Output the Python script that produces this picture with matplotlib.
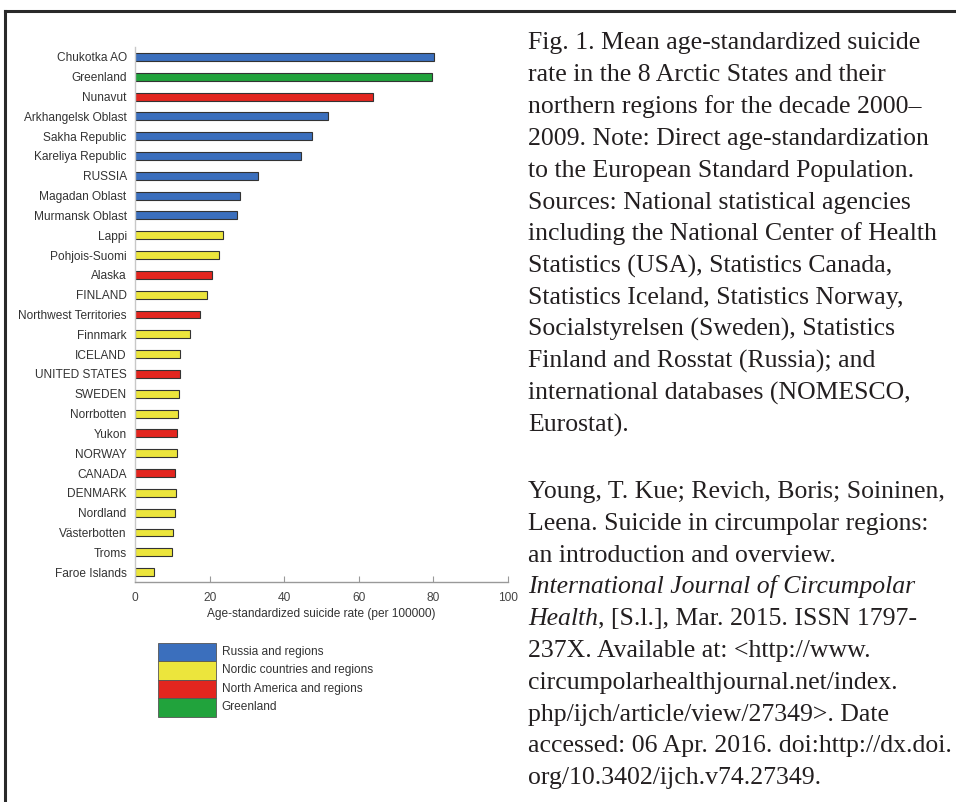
import matplotlib
matplotlib.use('Agg')
import matplotlib.pyplot as plt
from matplotlib.patches import Rectangle
from matplotlib.lines import Line2D

# ---------------- data ----------------
regions = ["Chukotka AO", "Greenland", "Nunavut", "Arkhangelsk Oblast", "Sakha Republic",
           "Kareliya Republic", "RUSSIA", "Magadan Oblast", "Murmansk Oblast", "Lappi",
           "Pohjois-Suomi", "Alaska", "FINLAND", "Northwest Territories", "Finnmark",
           "ICELAND", "UNITED STATES", "SWEDEN", "Norrbotten", "Yukon", "NORWAY",
           "CANADA", "DENMARK", "Nordland", "Västerbotten", "Troms", "Faroe Islands"]
rates = [80.2, 79.7, 63.8, 51.8, 47.5, 44.5, 32.9, 28.1, 27.3, 23.6,
         22.6, 20.6, 19.3, 17.3, 14.7, 12.1, 12.1, 11.9, 11.5, 11.3, 11.2,
         10.8, 10.9, 10.6, 10.2, 9.9, 5.2]
groups = [0, 3, 2, 0, 0, 0, 0, 0, 0, 1,
          1, 2, 1, 2, 1, 1, 2, 1, 1, 2, 1,
          2, 1, 1, 1, 1, 1]
group_names = ["Russia and regions", "Nordic countries and regions",
               "North America and regions", "Greenland"]
group_colors = ["#3b6fbd", "#ece53c", "#e3261f", "#21a33c"]
x_ticks = [0, 20, 40, 60, 80, 100]
x_label = "Age-standardized suicide rate (per 100000)"

caption_block1 = [
    "Fig. 1. Mean age-standardized suicide",
    "rate in the 8 Arctic States and their",
    "northern regions for the decade 2000–",
    "2009. Note: Direct age-standardization",
    "to the European Standard Population.",
    "Sources: National statistical agencies",
    "including the National Center of Health",
    "Statistics (USA), Statistics Canada,",
    "Statistics Iceland, Statistics Norway,",
    "Socialstyrelsen (Sweden), Statistics",
    "Finland and Rosstat (Russia); and",
    "international databases (NOMESCO,",
    "Eurostat).",
]
caption_block2 = [
    [("Young, T. Kue; Revich, Boris; Soininen,", "normal")],
    [("Leena. Suicide in circumpolar regions:", "normal")],
    [("an introduction and overview.", "normal")],
    [("International Journal of Circumpolar", "italic")],
    [("Health", "italic"), (", [S.l.], Mar. 2015. ISSN 1797-", "normal")],
    [("237X. Available at: <http://www.", "normal")],
    [("circumpolarhealthjournal.net/index.", "normal")],
    [("php/ijch/article/view/27349>. Date", "normal")],
    [("accessed: 06 Apr. 2016. doi:http://dx.doi.", "normal")],
    [("org/10.3402/ijch.v74.27349.", "normal")],
]

# ---------------- figure ----------------
W, H = 956, 802
fig = plt.figure(figsize=(W / 100, H / 100), dpi=100)
fig.patch.set_facecolor("white")

sans = "Liberation Sans"
serif = "Liberation Serif"
fs = 8.6

ax = fig.add_axes([135 / W, 220 / H, 373 / W, 535 / H])
ypos = list(range(len(regions)))
ax.barh(ypos, rates, height=0.4,
        color=[group_colors[g] for g in groups],
        edgecolor="#333333", linewidth=0.8)
ax.set_ylim(len(regions) - 0.5, -0.5)
ax.set_xlim(0, 100)
ax.set_yticks(ypos)
ax.set_yticklabels(regions, fontfamily=sans, fontsize=fs, color="#333333")
ax.set_xticks(x_ticks)
ax.set_xticklabels([str(t) for t in x_ticks], fontfamily=sans, fontsize=fs, color="#444444")
ax.tick_params(axis="y", length=0, pad=6)
ax.tick_params(axis="x", direction="in", length=4, color="#999999", pad=7)
ax.set_xlabel(x_label, fontfamily=sans, fontsize=fs, color="#333333", labelpad=3)
for s in ("top", "right"):
    ax.spines[s].set_visible(False)
ax.spines["left"].set_color("#c8c8c8")
ax.spines["bottom"].set_color("#999999")
ax.spines["left"].set_linewidth(1.0)
ax.spines["bottom"].set_linewidth(1.0)

# legend: stacked colour blocks with labels
lx0, lx1, ly0, lh = 157.7, 215.7, 642.7, 18.5
for i, (name, col) in enumerate(zip(group_names, group_colors)):
    top = ly0 + i * lh
    fig.add_artist(Rectangle((lx0 / W, 1 - (top + lh) / H), (lx1 - lx0) / W, lh / H,
                             transform=fig.transFigure, facecolor=col,
                             edgecolor="#555555", linewidth=0.6))
    fig.text((lx1 + 6) / W, 1 - (top + lh / 2) / H, name, fontfamily=sans, fontsize=fs,
             color="#333333", va="center", ha="left")

# frame lines
fig.add_artist(Line2D([4.5 / W, 4.5 / W], [0, 1 - 11 / H], transform=fig.transFigure,
                      color="#2a2a2a", linewidth=2.2, solid_capstyle="projecting"))
fig.add_artist(Line2D([4.5 / W, 1], [1 - 11 / H, 1 - 11 / H], transform=fig.transFigure,
                      color="#2a2a2a", linewidth=2.2, solid_capstyle="projecting"))

# caption text
cfs = 18.5
tx = 528 / W
dy = 31.8
tcol = "#231f20"
for i, line in enumerate(caption_block1):
    fig.text(tx, 1 - (49.5 + i * dy) / H, line, fontfamily=serif, fontsize=cfs,
             color=tcol, va="baseline", ha="left")

renderer = fig.canvas.get_renderer()
for i, segs in enumerate(caption_block2):
    x = tx
    y = 1 - (498 + i * dy) / H
    for txt, style in segs:
        t = fig.text(x, y, txt, fontfamily=serif, fontsize=cfs, style=style,
                     color=tcol, va="baseline", ha="left")
        bb = t.get_window_extent(renderer=renderer)
        x = bb.x1 / W

fig.savefig("out.png", dpi=100)
